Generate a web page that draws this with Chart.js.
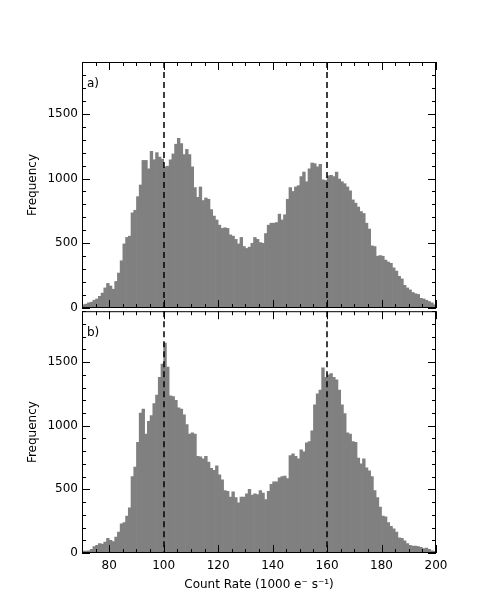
<!DOCTYPE html>
<html>
<head>
<meta charset="utf-8">
<script src="https://cdn.jsdelivr.net/npm/chart.js@4"></script>
<style>
  html, body { margin: 0; padding: 0; background: #fff; }
  #wrap { position: relative; width: 485px; height: 616px; }
  canvas { position: absolute; left: 0; }
  #chart-a { top: 0; }
  #chart-b { top: 300px; }
</style>
</head>
<body>
<div id="wrap">
  <canvas id="chart-a" width="485" height="320" style="width:485px;height:320px"></canvas>
  <canvas id="chart-b" width="485" height="316" style="width:485px;height:316px"></canvas>
</div>
<script>
// Two stacked count-rate histograms, 1-unit bins from 70 to 200.

const binStart = 70;
const binWidth = 1;

// a) counts per bin, 70..199
const countsA = [
  25, 30, 40, 45, 60, 70, 90, 115, 155, 190,
  170, 145, 205, 270, 365, 495, 545, 555, 735, 755,
  860, 950, 1140, 1140, 1075, 1210, 1145, 1200, 1165, 1150,
  1090, 1095, 1145, 1190, 1265, 1310, 1270, 1185, 1225, 1185,
  1090, 930, 855, 935, 830, 850, 840, 760, 710, 680,
  640, 615, 620, 615, 565, 555, 530, 495, 545, 475,
  460, 470, 500, 545, 530, 505, 500, 575, 640, 655,
  655, 660, 725, 680, 720, 840, 930, 900, 935, 945,
  1015, 1050, 975, 1075, 1120, 1115, 1090, 1110, 990, 985,
  1020, 1025, 1015, 1050, 995, 975, 960, 935, 905, 835,
  810, 780, 745, 730, 655, 610, 480, 475, 400, 405,
  400, 370, 355, 345, 310, 285, 245, 225, 175, 155,
  140, 120, 110, 105, 75, 70, 60, 50, 40, 25
];

// b) counts per bin, 70..199
const countsB = [
  15, 15, 18, 28, 50, 60, 75, 70, 85, 115,
  100, 90, 125, 165, 230, 240, 290, 355, 600, 675,
  870, 1100, 1130, 935, 1035, 1080, 1175, 1240, 1380, 1485,
  1650, 1460, 1235, 1230, 1200, 1140, 1130, 1085, 1010, 935,
  945, 935, 760, 755, 740, 760, 715, 665, 650, 685,
  615, 575, 490, 485, 440, 480, 435, 395, 440, 440,
  465, 500, 455, 465, 460, 490, 470, 420, 485, 540,
  560, 560, 590, 600, 605, 585, 765, 780, 760, 740,
  810, 795, 865, 875, 960, 1165, 1250, 1280, 1455, 1380,
  1400, 1410, 1380, 1360, 1280, 1165, 1095, 945, 935, 875,
  870, 745, 700, 740, 670, 645, 600, 490, 435, 360,
  290, 285, 240, 210, 190, 165, 120, 115, 95, 75,
  60, 55, 55, 50, 45, 35, 38, 28, 18, 13
];

const xTicks = [80, 100, 120, 140, 160, 180, 200];
const yTicks = [0, 500, 1000, 1500];
const refLines = [100, 160];

const X_MIN = 70, X_MAX = 200, Y_MAX = 1900;
const FONT = "'DejaVu Sans', sans-serif";

function toPoints(counts) {
  return counts.map((c, i) => ({ x: binStart + binWidth * (i + 0.5), y: c }));
}

// frame, inward ticks, dashed reference lines and the panel letter
const panelDecor = {
  id: 'panelDecor',
  afterDatasetsDraw(chart, args, opts) {
    const { ctx, chartArea: a, scales: { x, y } } = chart;
    ctx.save();

    ctx.strokeStyle = '#000';
    ctx.lineWidth = 1.5;
    ctx.setLineDash([6, 4]);
    refLines.forEach(v => {
      const px = Math.round(x.getPixelForValue(v));
      ctx.beginPath();
      ctx.moveTo(px, a.top);
      ctx.lineTo(px, a.bottom);
      ctx.stroke();
    });
    ctx.setLineDash([]);

    ctx.lineWidth = 1;
    ctx.beginPath();
    for (let v = X_MIN; v <= X_MAX; v += 5) {
      const len = v % 20 === 0 ? 8 : 4;
      const px = Math.round(x.getPixelForValue(v)) + 0.5;
      ctx.moveTo(px, a.bottom); ctx.lineTo(px, a.bottom - len);
      ctx.moveTo(px, a.top); ctx.lineTo(px, a.top + len);
    }
    for (let v = 0; v <= Y_MAX; v += 100) {
      const len = v % 500 === 0 ? 8 : 4;
      const py = Math.round(y.getPixelForValue(v)) + 0.5;
      ctx.moveTo(a.left, py); ctx.lineTo(a.left + len, py);
      ctx.moveTo(a.right, py); ctx.lineTo(a.right - len, py);
    }
    ctx.stroke();

    ctx.strokeRect(a.left + 0.5, a.top + 0.5, a.right - a.left - 1, a.bottom - a.top - 1);

    ctx.fillStyle = '#000';
    ctx.font = `12px ${FONT}`;
    ctx.textAlign = 'left';
    ctx.textBaseline = 'alphabetic';
    ctx.fillText(opts.label, a.left + 5, a.top + 25);
    ctx.restore();
  }
};

function yScale() {
  return {
    min: 0,
    max: Y_MAX,
    afterBuildTicks: s => { s.ticks = yTicks.map(v => ({ value: v })); },
    afterFit: s => { s.width = 58; },
    grid: { display: false, drawTicks: false },
    border: { display: false },
    ticks: { padding: 4, color: '#000', font: { family: FONT, size: 12 }, callback: v => String(v) },
    title: {
      display: true, text: 'Frequency', color: '#000',
      font: { family: FONT, size: 12 }, padding: { top: 2, bottom: 4 }
    }
  };
}

function makeChart(id, counts, label, showX) {
  const xScale = {
    type: 'linear',
    min: X_MIN,
    max: X_MAX,
    offset: false,
    display: showX,
    afterBuildTicks: s => { s.ticks = xTicks.map(v => ({ value: v })); },
    grid: { display: false, drawTicks: false, offset: false },
    border: { display: false },
    ticks: { padding: 6, color: '#000', autoSkip: false, maxRotation: 0, font: { family: FONT, size: 12 }, callback: v => String(v) },
    title: {
      display: true, text: 'Count Rate (1000 e\u207B s\u207B\u00B9)', color: '#000',
      font: { family: FONT, size: 12 }, padding: { top: 4, bottom: 4 }
    }
  };
  if (showX) xScale.afterFit = s => { s.height = 43; };

  return new Chart(document.getElementById(id), {
    type: 'bar',
    data: {
      datasets: [{
        data: toPoints(counts),
        backgroundColor: '#808080',
        borderWidth: 0,
        barPercentage: 1,
        categoryPercentage: 1,
      }],
    },
    options: {
      responsive: false,
      animation: false,
      layout: { padding: showX
        ? { left: 24, top: 8, right: 49, bottom: 20 }
        : { left: 24, top: 62, right: 49, bottom: 12 } },
      plugins: {
        legend: { display: false },
        tooltip: { enabled: false },
        panelDecor: { label },
      },
      scales: { x: xScale, y: yScale() },
    },
    plugins: [panelDecor],
  });
}

makeChart('chart-a', countsA, 'a)', false);
makeChart('chart-b', countsB, 'b)', true);
</script>
</body>
</html>
